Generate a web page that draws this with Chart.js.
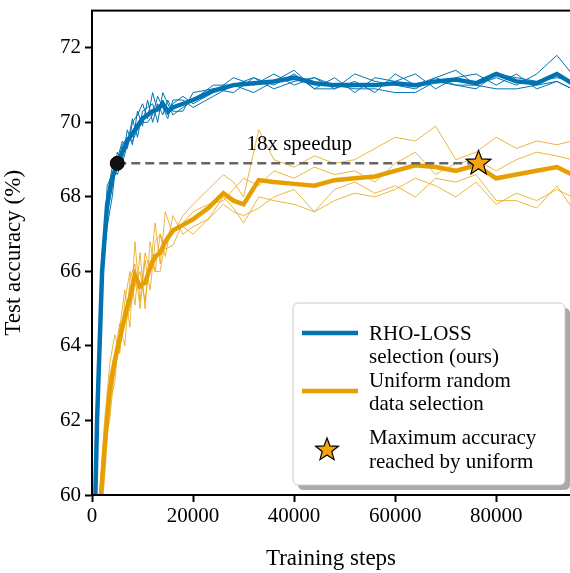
<!DOCTYPE html>
<html>
<head>
<meta charset="utf-8">
<script src="https://cdn.jsdelivr.net/npm/chart.js@4"></script>
<style>
body { margin:0; background:#fff; overflow:hidden; }
#wrap { width:578px; height:579px; margin-top:-6px; }
</style>
</head>
<body>
<div id="wrap"><canvas id="c"></canvas></div>
<script>
// 데이터
var blueSteps = [500,1000,2000,3000,4000,5000,6000,7000,8000,9000,10000,11000,12000,13000,14000,15000,16000,18000,20000,24000,28000,32000,36000,40000,44000,48000,52000,56000,60000,64000,68000,72000,76000,80000,84000,88000,92000,95000];
var blueMean = [59,62,66,67.8,68.5,68.9,69.2,69.5,69.7,69.9,70.1,70.2,70.3,70.35,70.5,70.3,70.4,70.5,70.6,70.85,71.0,71.05,71.1,71.2,71.05,71.0,71.0,71.0,71.05,71.0,71.1,71.15,71.05,71.3,71.1,71.05,71.3,71.05];
var blueRuns = [
	[59,61.5,65.5,67.5,68.3,69.0,69.5,69.3,70.0,70.2,70.5,70.1,70.8,70.3,70.6,70.2,70.5,70.7,70.5,70.8,71.2,71.0,71.3,71.0,71.2,70.9,71.3,71.1,71.0,70.9,71.2,71.4,71.0,71.2,71.0,71.3,71.8,71.3],
	[59.5,62.5,66.5,68.0,68.8,68.6,69.0,69.8,69.4,70.3,69.9,70.6,70.0,70.5,70.2,70.6,70.3,70.3,70.8,70.9,70.8,71.2,71.0,71.3,70.9,71.2,70.8,71.2,71.1,71.3,70.9,71.2,71.3,71.0,71.3,70.9,71.1,70.9],
	[58.5,62,66,67.2,68.0,69.2,68.9,69.4,70.1,69.6,70.3,70.4,70.5,70.0,70.8,70.5,70.2,70.4,70.6,71.0,71.0,70.8,71.1,71.4,70.9,70.9,71.1,70.8,71.3,71.0,71.2,71.0,70.9,71.3,71.2,71.1,71.2,71.1],
	[59,62,65.8,68.3,68.6,68.8,69.4,69.6,69.5,69.8,70.0,70.0,70.2,70.7,70.4,70.1,70.6,70.6,70.4,70.7,71.0,71.2,70.9,71.1,71.2,71.0,70.9,70.9,70.8,70.8,71.1,71.0,71.0,70.9,70.9,71.0,71.1,70.9]
];
var orangeSteps = [1500,2500,3500,4500,5500,6500,7500,8500,9500,10500,11500,12500,13500,14500,16000,18000,20000,23000,26000,28000,30000,33000,36000,40000,44000,48000,52000,56000,60000,64000,68000,72000,76000,80000,84000,88000,92000,95000];
var orangeMean = [59.5,61.3,62.8,63.6,64.2,64.8,65.3,65.9,65.6,65.7,66.1,66.4,66.5,66.8,67.1,67.25,67.4,67.7,68.1,67.9,67.8,68.45,68.4,68.35,68.3,68.45,68.5,68.55,68.7,68.85,68.8,68.7,68.85,68.5,68.6,68.7,68.8,68.6];
var orangeRuns = [
	[59,60.5,62.5,63,64.5,65.5,64.5,66.8,65.2,66.5,66.0,67.3,66.2,67.6,67.0,67.5,67.8,68.2,68.6,68.4,68.0,69.8,69.0,68.8,69.1,68.9,69.0,69.3,69.6,69.5,69.9,69.0,69.2,69.6,69.3,69.5,69.4,69.5],
	[60,62,63.5,64.3,63.8,65.2,66.0,65.1,66.5,65.0,66.8,66.0,67.0,66.4,67.5,67.0,67.2,67.4,68.0,67.7,67.3,68.0,67.9,67.8,67.6,67.9,68.1,68.0,68.2,68.5,68.3,68.0,68.4,67.8,68.1,67.9,68.2,68.0],
	[59.2,61.0,63.2,63.8,64.6,64.0,65.8,66.2,65.0,66.3,65.5,66.8,67.0,66.6,66.7,67.3,67.6,67.8,67.9,68.2,68.5,68.3,68.7,68.5,68.8,68.6,68.7,68.4,68.9,69.2,68.6,68.9,69.0,68.7,69.0,69.2,69.1,69.0],
	[59.8,61.5,62.0,63.4,64.0,64.6,65.0,65.6,66.0,65.2,66.3,66.0,66.0,66.8,67.1,67.2,67.0,67.4,67.8,67.6,67.5,67.7,68.0,68.2,67.6,68.2,68.4,68.1,68.3,68.0,68.5,68.4,68.6,67.9,67.9,67.7,68.3,67.7]
];
var xTicks = [0,20000,40000,60000,80000];
var yTicks = [60,62,64,66,68,70,72];
var speedupStart = 5000, speedupEnd = 76500, speedupAcc = 68.9;

var BLUE = '#0173b2', ORANGE = '#e69f00';
var SERIF = '"Liberation Serif", "DejaVu Serif", serif';

function pts(xs, ys){ return xs.map(function(x,i){ return {x:x, y:ys[i]}; }); }

var datasets = [];
blueRuns.forEach(function(r){
	datasets.push({data:pts(blueSteps,r), borderColor:BLUE, borderWidth:1, pointRadius:0, order:3});
});
orangeRuns.forEach(function(r){
	datasets.push({data:pts(orangeSteps,r), borderColor:'rgba(230,159,0,0.75)', borderWidth:1, pointRadius:0, order:3});
});
datasets.push({data:pts(blueSteps,blueMean), borderColor:BLUE, borderWidth:4.5, pointRadius:0, order:2});
datasets.push({data:pts(orangeSteps,orangeMean), borderColor:ORANGE, borderWidth:4.5, pointRadius:0, order:2});
datasets.push({data:[{x:speedupStart,y:speedupAcc},{x:speedupEnd,y:speedupAcc}], borderColor:'#666', borderWidth:2.5, borderDash:[9,5], pointRadius:0, order:1});
datasets.push({data:[{x:speedupStart,y:speedupAcc}], showLine:false, pointRadius:7, pointBackgroundColor:'#111', pointBorderColor:'#000', order:0});

// 별 모양 (채워진 오각별)
function drawStar(ctx, cx, cy, R, fill){
	var r = R*0.42;
	ctx.beginPath();
	for(var i=0;i<10;i++){
		var a = -Math.PI/2 + i*Math.PI/5;
		var rr = i%2 ? r : R;
		ctx.lineTo(cx+rr*Math.cos(a), cy+rr*Math.sin(a));
	}
	ctx.closePath();
	ctx.fillStyle = fill; ctx.fill();
	ctx.lineWidth = 1.2; ctx.strokeStyle = '#000'; ctx.stroke();
}

var extras = {
	id:'extras',
	afterDatasetsDraw: function(chart){
		var ctx = chart.ctx, a = chart.chartArea;
		var xs = chart.scales.x, ys = chart.scales.y;
		var dy = 6; // 캔버스가 위로 6px 올라가 있음
		ctx.save();
		drawStar(ctx, xs.getPixelForValue(speedupEnd), ys.getPixelForValue(speedupAcc), 13, '#f5a30f');
		// 텍스트
		ctx.fillStyle = '#000';
		ctx.font = '21px ' + SERIF;
		ctx.textAlign = 'center'; ctx.textBaseline = 'alphabetic';
		ctx.fillText('18x speedup', xs.getPixelForValue(41000), ys.getPixelForValue(69.25));
		// 범례
		var lx = 293, ly = 303 + dy, lw = 272, lh = 182;
		ctx.fillStyle = '#aaa';
		ctx.beginPath(); ctx.roundRect(lx+5, ly+5, lw, lh, 5); ctx.fill();
		ctx.fillStyle = '#fff'; ctx.strokeStyle = '#ccc'; ctx.lineWidth = 1;
		ctx.beginPath(); ctx.roundRect(lx, ly, lw, lh, 5); ctx.fill(); ctx.stroke();
		ctx.textAlign = 'left';
		ctx.lineWidth = 4.5;
		ctx.strokeStyle = BLUE;
		ctx.beginPath(); ctx.moveTo(302, 333+dy); ctx.lineTo(358, 333+dy); ctx.stroke();
		ctx.strokeStyle = ORANGE;
		ctx.beginPath(); ctx.moveTo(302, 391+dy); ctx.lineTo(358, 391+dy); ctx.stroke();
		drawStar(ctx, 327, 450+dy, 12, '#f5a30f');
		ctx.fillStyle = '#000';
		ctx.fillText('RHO-LOSS', 369, 340+dy);
		ctx.fillText('selection (ours)', 369, 363+dy);
		ctx.fillText('Uniform random', 369, 387+dy);
		ctx.fillText('data selection', 369, 410+dy);
		ctx.fillText('Maximum accuracy', 369, 444+dy);
		ctx.fillText('reached by uniform', 369, 468+dy);
		// 테두리
		ctx.strokeStyle = '#000'; ctx.lineWidth = 2;
		ctx.strokeRect(a.left, a.top, a.right - a.left + 4, a.bottom - a.top);
		ctx.restore();
	}
};

new Chart(document.getElementById('c'), {
	type:'line',
	data:{ datasets:datasets },
	plugins:[extras],
	options:{
		responsive:true, maintainAspectRatio:false, animation:false,
		layout:{ padding:{ top:0, right:0, left:0, bottom:0 } },
		plugins:{ legend:{display:false}, tooltip:{enabled:false} },
		scales:{
			x:{
				type:'linear', min:0, max:94600,
				afterBuildTicks:function(s){ s.ticks = xTicks.map(function(v){ return {value:v}; }); },
				afterFit:function(s){ s.height = 78; },
				grid:{ drawOnChartArea:false, tickLength:7, tickWidth:2, color:'#000' },
				border:{ color:'#000', width:2 },
				ticks:{ color:'#000', font:{ family:SERIF, size:21 }, maxRotation:0, padding:2, callback:function(v){ return v; } },
				title:{ display:true, text:'Training steps', color:'#000', font:{ family:SERIF, size:23 }, padding:{top:0, bottom:0} }
			},
			y:{
				min:60, max:73,
				afterBuildTicks:function(s){ s.ticks = yTicks.map(function(v){ return {value:v}; }); },
				afterFit:function(s){ s.width = 92; },
				grid:{ drawOnChartArea:false, tickLength:7, tickWidth:2, color:'#000' },
				border:{ color:'#000', width:2 },
				ticks:{ color:'#000', font:{ family:SERIF, size:21 }, padding:4 },
				title:{ display:true, text:'Test accuracy (%)', color:'#000', font:{ family:SERIF, size:23 }, padding:{top:0, bottom:2} }
			}
		}
	}
});
</script>
</body>
</html>
